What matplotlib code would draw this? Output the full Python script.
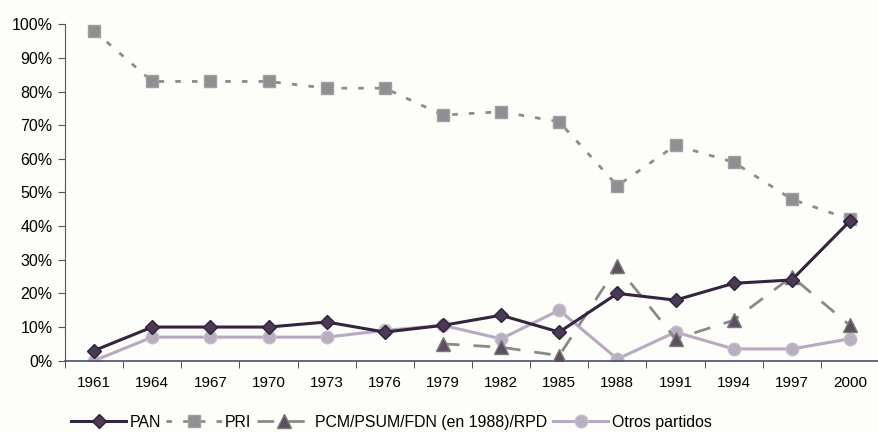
import matplotlib.pyplot as plt
import numpy as np

plt.rcParams['font.family'] = ['Liberation Sans', 'DejaVu Sans']

anios = ["1961", "1964", "1967", "1970", "1973", "1976", "1979",
         "1982", "1985", "1988", "1991", "1994", "1997", "2000"]
pan = [3, 10, 10, 10, 11.5, 8.5, 10.5, 13.5, 8.5, 20, 18, 23, 24, 41.5]
pri = [98, 83, 83, 83, 81, 81, 73, 74, 71, 52, 64, 59, 48, 42]
izq = [None, None, None, None, None, None, 5, 4, 1.5, 28, 6.5, 12, 25, 10.5]
otros = [0, 7, 7, 7, 7, 9, 10.5, 6.5, 15, 0.5, 8.5, 3.5, 3.5, 6.5]

x = np.arange(len(anios))
izq_x = [i for i, v in zip(x, izq) if v is not None]
izq_y = [v for v in izq if v is not None]

fondo = "#fdfdf9"
fig = plt.figure(figsize=(8.79, 4.33), dpi=100, facecolor=fondo)
ax = fig.add_axes([0.074, 0.167, 0.926, 0.777], facecolor=fondo)

ax.plot(x, pan, color="#33243f", lw=2.2, marker="D", ms=7.5,
        mfc="#4a3a55", mec="#2e2238", label="PAN", zorder=4)
ax.plot(x, pri, color="#8c8c8c", lw=2, linestyle=(0, (2, 4)), marker="s",
        ms=9, mfc="#8f8f93", mec="#a0a0a0", label="PRI", zorder=3)
ax.plot(izq_x, izq_y, color="#8a8a8a", lw=2, linestyle=(0, (6, 5)),
        marker="^", ms=9.5, mfc="#5e4e60", mec="#7a7a7a",
        label="PCM/PSUM/FDN (en 1988)/RPD", zorder=3)
ax.plot(x, otros, color="#b8a9c2", lw=2.2, marker="o", ms=9,
        mfc="#b8b0c0", mec="#c5bccb", label="Otros partidos", zorder=2)

ax.set_xlim(-0.5, 13.36)
ax.set_ylim(0, 100)
ax.set_yticks(range(0, 101, 10))
ax.set_yticklabels([f"{v}%" for v in range(0, 101, 10)], fontsize=11.5)
ax.set_xticks(x)
ax.set_xticklabels(anios, fontsize=11)
ax.set_xticks(np.arange(-0.5, 13.6, 1), minor=True)
ax.tick_params(axis="x", which="major", length=0, pad=11)
ax.tick_params(axis="x", which="minor", length=5, direction="out", color="#333333")
ax.tick_params(axis="y", length=5, color="#555555", pad=4)

for s in ["top", "right"]:
    ax.spines[s].set_visible(False)
ax.spines["left"].set_color("#555555")
ax.spines["bottom"].set_color("#4a4a7a")
ax.spines["bottom"].set_linewidth(1.2)

fig.legend(loc="center", bbox_to_anchor=(0.445, 0.025), ncol=4,
           frameon=False, fontsize=11.4, handlelength=3.5, handletextpad=0.2,
           columnspacing=0.35, borderaxespad=0, borderpad=0.1)

fig.savefig("out.png", dpi=100, facecolor=fondo)
